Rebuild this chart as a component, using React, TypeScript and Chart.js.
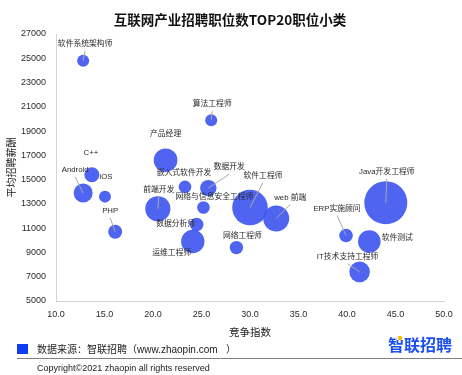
import React, { useEffect, useRef } from "react";
import { Chart, registerables } from "chart.js";

Chart.register(...registerables);

const chartTitle = "互联网产业招聘职位数TOP20职位小类";
const xAxisTitle = "竞争指数";
const yAxisTitle = "平均招聘薪酬";
const sourceText = "数据来源：智联招聘（www.zhaopin.com   ）";
const logoText = "智联招聘";
const copyrightText = "Copyright©2021 zhaopin all rights reserved";

const categories = [
  "软件系统架构师", "算法工程师", "产品经理", "C++", "Android", "iOS", "PHP", "前端开发",
  "嵌入式软件开发", "数据开发", "网络与信息安全工程师", "数据分析师", "运维工程师", "软件工程师",
  "web 前端", "网络工程师", "ERP实施顾问", "Java开发工程师", "软件测试", "IT技术支持工程师",
];
const competition = [12.8, 26.0, 21.3, 13.7, 12.8, 15.05, 16.1, 20.5, 23.3, 25.7, 25.2, 24.5, 24.1, 30.0, 32.7, 28.6, 39.9, 44.0, 42.3, 41.3];
const salary = [24800, 19900, 16600, 15400, 13900, 13600, 10700, 12600, 14400, 14300, 12700, 11300, 9900, 12700, 11800, 9400, 10400, 13100, 9900, 7400];
const bubbleSize = [6, 6, 11.8, 7.5, 9.5, 6, 7, 12.6, 6.3, 8.2, 6.3, 6.8, 11.7, 17.8, 13, 6.7, 6.8, 21.5, 11.3, 10.3];

// label placement relative to bubble centre (pixels) and whether a leader line is drawn
const labelDx = [2, 1, 0, -1, -8, 1, -5, 1, -1, 21, 11, -21, -21, 13, 14, 6, -9, 1, 28, -12];
const labelDy = [-17, -16, -26, -22, -23, -20, -21, -19, -14, -21, -11, -1, 11, -32, -21, -12, -27, -31, -4, -15];
const leader = [true, true, false, false, true, false, true, true, false, true, false, false, false, true, true, false, true, true, false, true];

const xTicksMin = 10;
const xTicksMax = 50;
const xStep = 5;
const yTicksMin = 5000;
const yTicksMax = 27000;
const yStep = 2000;

const FONT = '"Liberation Sans", "Noto Sans CJK SC", sans-serif';
const CJK = '"Noto Sans CJK SC", "Liberation Sans", sans-serif';

const labelPlugin = {
  id: "bubbleLabels",
  afterDatasetsDraw(chart: any) {
    const ctx = chart.ctx;
    const meta = chart.getDatasetMeta(0);
    ctx.save();
    meta.data.forEach((el: any, i: number) => {
      const cx = el.x;
      const cy = el.y;
      const lx = cx + labelDx[i];
      const ly = cy + labelDy[i];
      if (leader[i]) {
        ctx.strokeStyle = "#a8a8a8";
        ctx.lineWidth = 1;
        ctx.beginPath();
        ctx.moveTo(lx, ly + 7);
        ctx.lineTo(cx, cy);
        ctx.stroke();
      }
    });
    meta.data.forEach((el: any, i: number) => {
      const lx = el.x + labelDx[i];
      const ly = el.y + labelDy[i];
      ctx.font = `7.8px ${FONT}`;
      ctx.fillStyle = "#2a2a2a";
      ctx.textAlign = "center";
      ctx.textBaseline = "middle";
      ctx.fillText(categories[i], lx, ly);
    });
    ctx.restore();
  },
};

const decorPlugin = {
  id: "decor",
  afterDraw(chart: any) {
    const ctx = chart.ctx;
    ctx.save();
    ctx.fillStyle = "#111";
    ctx.font = `bold 13.5px ${CJK}`;
    ctx.textAlign = "center";
    ctx.textBaseline = "middle";
    ctx.fillText(chartTitle, 230, 20);

    ctx.fillStyle = "#0f3cf2";
    ctx.fillRect(17, 344, 11, 10);
    ctx.fillStyle = "#222";
    ctx.font = `10px ${FONT}`;
    ctx.textAlign = "left";
    ctx.fillText(sourceText, 37, 350);

    ctx.fillStyle = "#1a4ff0";
    ctx.font = `bold 16px ${CJK}`;
    ctx.fillText(logoText, 388, 345);
    ctx.fillStyle = "#ffffff";
    ctx.fillRect(397, 336, 6, 4);
    ctx.fillStyle = "#f5b800";
    ctx.beginPath();
    ctx.arc(400, 338, 2.2, 0, Math.PI * 2);
    ctx.fill();

    ctx.strokeStyle = "#808080";
    ctx.lineWidth = 1;
    ctx.beginPath();
    ctx.moveTo(17, 358.5);
    ctx.lineTo(462, 358.5);
    ctx.stroke();

    ctx.fillStyle = "#222";
    ctx.font = `9px ${FONT}`;
    ctx.fillText(copyrightText, 37, 369);
    ctx.restore();
  },
};

export default function App() {
  const ref = useRef<HTMLCanvasElement>(null);
  useEffect(() => {
    if (!ref.current) return;
    const points = categories.map((_, i) => ({ x: competition[i], y: salary[i], r: bubbleSize[i] }));
    const chart = new Chart(ref.current, {
      type: "bubble",
      data: {
        datasets: [
          {
            label: "职位",
            data: points,
            backgroundColor: "rgba(66, 88, 240, 0.93)",
            borderWidth: 0,
            hoverRadius: 0,
          },
        ],
      },
      options: {
        responsive: false,
        animation: false,
        devicePixelRatio: 1,
        layout: { autoPadding: false, padding: { left: 0, top: 34, right: 18, bottom: 0 } },
        plugins: { legend: { display: false }, tooltip: { enabled: false }, title: { display: false } },
        scales: {
          x: {
            type: "linear",
            min: xTicksMin,
            max: xTicksMax,
            grid: { display: false, drawTicks: false },
            border: { display: true, color: "#d4d4d4", width: 1 },
            ticks: {
              stepSize: xStep,
              padding: 8,
              color: "#2a2a2a",
              font: { size: 9, family: FONT },
              callback: (v: any) => Number(v).toFixed(1),
            },
            title: { display: true, text: xAxisTitle, color: "#222", font: { size: 10.5, family: CJK }, padding: { top: 0, bottom: 37 } },
            afterFit: (s: any) => { s.height = 74; s.paddingLeft = 0; s.paddingRight = 0; },
          },
          y: {
            type: "linear",
            min: yTicksMin,
            max: yTicksMax,
            grid: { display: false, drawTicks: false },
            border: { display: true, color: "#d4d4d4", width: 1 },
            ticks: {
              stepSize: yStep,
              padding: 10,
              color: "#2a2a2a",
              font: { size: 9, family: FONT },
              callback: (v: any) => String(v),
            },
            title: { display: true, text: yAxisTitle, color: "#222", font: { size: 10, family: CJK }, padding: { top: 5, bottom: 0 } },
            afterFit: (s: any) => { s.width = 56; s.paddingTop = 0; s.paddingBottom = 0; },
          },
        },
      },
      plugins: [labelPlugin, decorPlugin],
    });
    return () => chart.destroy();
  }, []);
  return (
    <div style={{ position: "absolute", left: 0, top: 0, width: 462, height: 375, background: "#fff" }}>
      <canvas ref={ref} width={462} height={375} style={{ display: "block" }} />
    </div>
  );
}
